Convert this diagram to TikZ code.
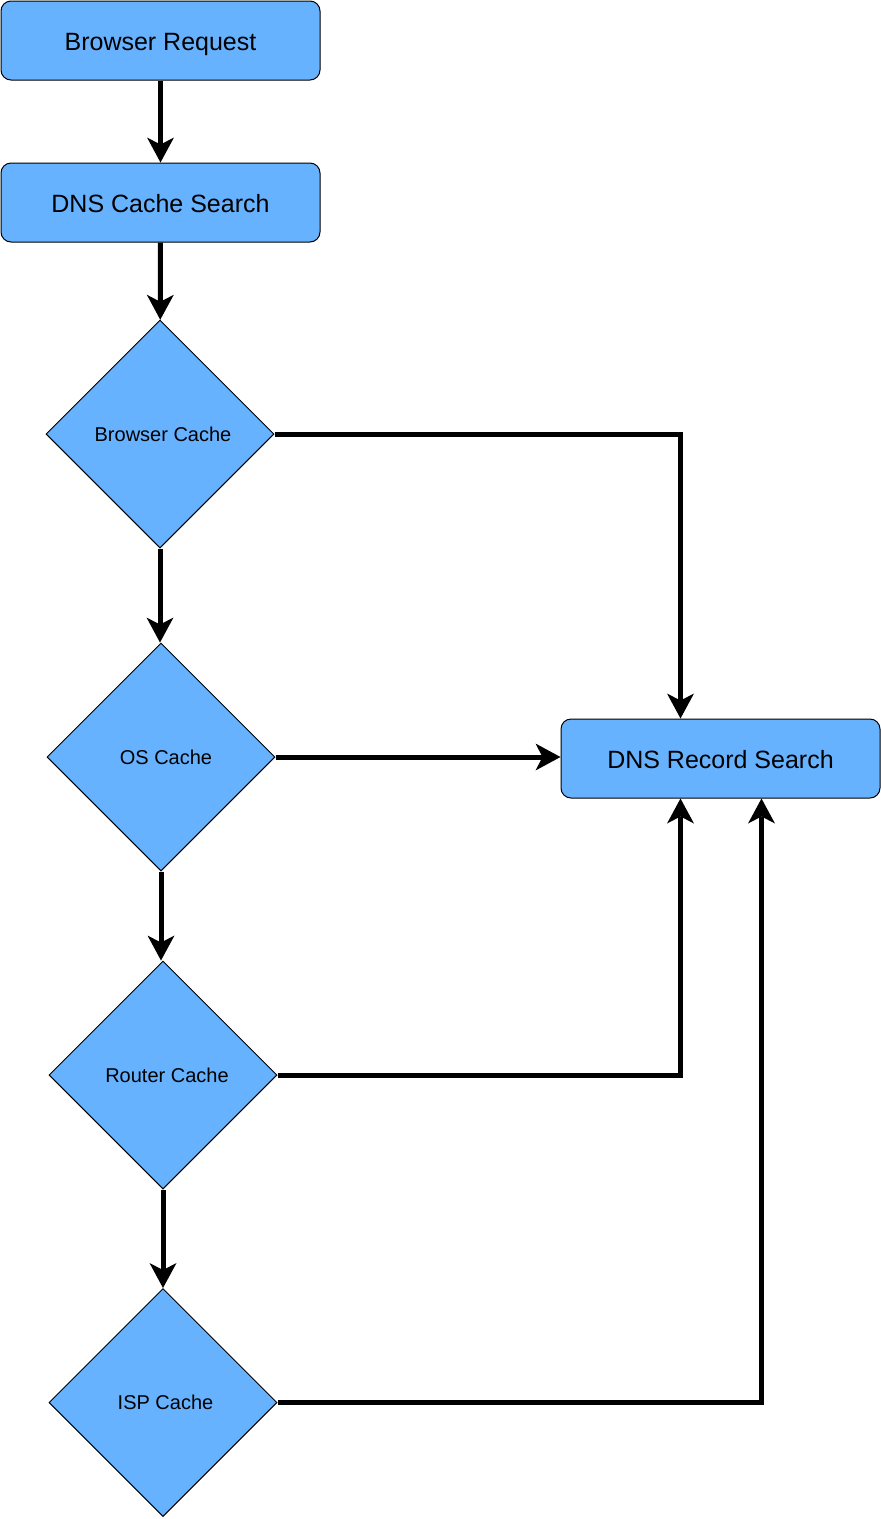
\documentclass[tikz,border=0pt]{standalone}
\usepackage{fontspec}
\setmainfont{Liberation Sans}
\usetikzlibrary{shapes.geometric,arrows.meta}
\definecolor{boxblue}{HTML}{66B2FF}
\newcommand{\boxtxt}[1]{\smash{\raisebox{-9.5pt}{#1}}}
\tikzset{
  rbox/.style={draw=black, line width=1pt, fill=boxblue, rounded corners=10pt,
    minimum width=319pt, minimum height=79pt, inner sep=0pt, font=\fontsize{25}{28}\selectfont},
  dia/.style={draw=black, line width=1pt, fill=boxblue, diamond, aspect=1,
    minimum width=228pt, minimum height=228pt, inner sep=0pt, font=\fontsize{20}{23}\selectfont},
  arr/.style={line width=5pt, -{Stealth[length=25pt,width=27pt,inset=7pt,line width=0pt]}}
}
\begin{document}
\begin{tikzpicture}[x=1pt,y=-1pt]
\useasboundingbox (0,0) rectangle (881,1519);
\node[rbox] (br) at (160.5,40.5) {\boxtxt{Browser Request}};
\node[rbox] (dcs) at (160.5,202.5) {\boxtxt{DNS Cache Search}};
\node[rbox] (dns) at (720.5,758.5) {\boxtxt{DNS Record Search}};
\node[dia] (bc) at (160,434) {\hspace*{6pt}Browser Cache};
\node[dia] (os) at (161,757) {\hspace*{10pt}OS Cache};
\node[dia] (rc) at (163,1075) {\hspace*{8pt}Router Cache};
\node[dia] (isp) at (163,1402.5) {\hspace*{5pt}ISP Cache};
\draw[arr] (br) -- (dcs);
\draw[arr] (dcs) -- (bc);
\draw[arr] (bc.south) -- (bc.south |- os.north);
\draw[arr] (os.south) -- (os.south |- rc.north);
\draw[arr] (rc) -- (isp);
\draw[arr] (bc.east) -| ([xshift=-40pt]dns.north);
\draw[arr] (os.east) -- (os.east -| dns.west);
\draw[arr] (rc.east) -| ([xshift=-40pt]dns.south);
\draw[arr] (isp.east) -| ([xshift=41pt]dns.south);
\end{tikzpicture}
\end{document}
